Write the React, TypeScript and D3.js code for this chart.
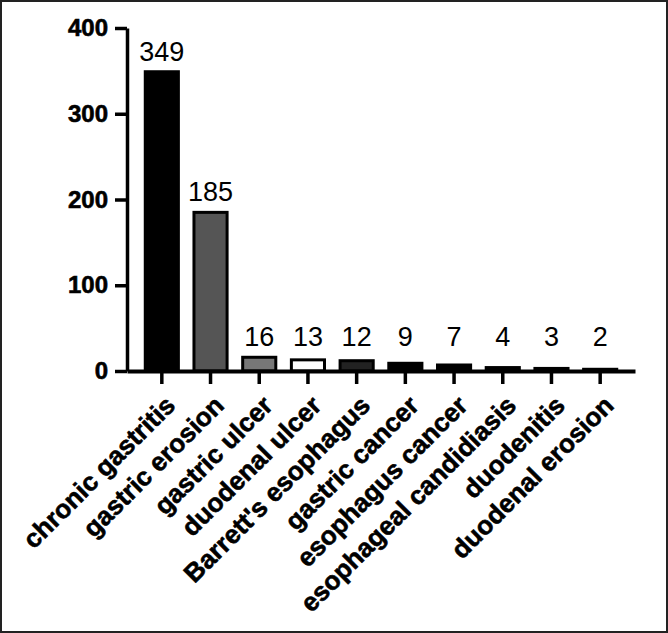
import { useEffect, useRef } from "react";
import * as d3 from "d3";

const WIDTH = 668;
const HEIGHT = 633;
const MARGIN = { top: 28, right: 33, bottom: 262, left: 127 };

const categories = [
  "chronic gastritis",
  "gastric erosion",
  "gastric ulcer",
  "duodenal ulcer",
  "Barrett's esophagus",
  "gastric cancer",
  "esophagus cancer",
  "esophageal candidiasis",
  "duodenitis",
  "duodenal erosion",
];
const counts = [349, 185, 16, 13, 12, 9, 7, 4, 3, 2];
const barFills = ["#000", "#555", "#777", "#fff", "#222", "#000", "#000", "#000", "#000", "#000"];
const yTicks = [0, 100, 200, 300, 400];

const FONT = "'Liberation Sans', Arial, sans-serif";

export default function App() {
  const axesRef = useRef<SVGGElement>(null);
  const boundsWidth = WIDTH - MARGIN.left - MARGIN.right;
  const boundsHeight = HEIGHT - MARGIN.top - MARGIN.bottom;

  const yScale = d3.scaleLinear().domain([0, 400]).range([boundsHeight, 0]);
  const xScale = d3
    .scaleBand()
    .domain(categories)
    .range([0, boundsWidth])
    .paddingInner(0.32)
    .paddingOuter(0.375);

  useEffect(() => {
    const g = d3.select(axesRef.current);
    g.selectAll("*").remove();

    // y axis
    const yAxis = g
      .append("g")
      .call(d3.axisLeft(yScale).tickValues(yTicks).tickSize(12).tickPadding(7).tickSizeOuter(0));
    yAxis.select(".domain").attr("stroke-width", 3.5).attr("stroke", "#000");
    yAxis.selectAll(".tick line").attr("stroke-width", 3.5).attr("stroke", "#000");
    yAxis
      .selectAll(".tick text")
      .attr("font-family", FONT)
      .attr("font-size", 24)
      .attr("font-weight", "bold")
      .attr("fill", "#000")
      .attr("stroke", "#000")
      .attr("stroke-width", 0.6);

    // x axis, no tick text (labels drawn rotated below)
    const xAxis = g
      .append("g")
      .attr("transform", `translate(0,${boundsHeight})`)
      .call(d3.axisBottom(xScale).tickSize(13).tickSizeOuter(0).tickFormat(() => ""));
    xAxis.select(".domain").attr("stroke-width", 4).attr("stroke", "#000");
    xAxis.selectAll(".tick line").attr("stroke-width", 3.5).attr("stroke", "#000");

    g.append("g")
      .selectAll("text")
      .data(categories)
      .join("text")
      .attr(
        "transform",
        (d) => `translate(${(xScale(d) ?? 0) + xScale.bandwidth() / 2 + 15},${boundsHeight + 36}) rotate(-45)`
      )
      .attr("text-anchor", "end")
      .attr("font-family", FONT)
      .attr("font-size", 26)
      .attr("font-weight", "bold")
      .attr("fill", "#000")
      .attr("stroke", "#000")
      .attr("stroke-width", 0.6)
      .text((d) => d);
  }, []);

  // small values all share one label height
  const labelFloor = yScale(16);

  return (
    <div>
      <style>{"body{margin:0}"}</style>
      <svg width={WIDTH} height={HEIGHT} style={{ display: "block", background: "#fff" }}>
        <rect x={1} y={1} width={WIDTH - 2} height={HEIGHT - 2} fill="#fff" stroke="#222" strokeWidth={2} />
        <g transform={`translate(${MARGIN.left},${MARGIN.top})`}>
          {categories.map((c, i) => (
            <rect
              key={c}
              x={xScale(c)}
              y={yScale(counts[i])}
              width={xScale.bandwidth()}
              height={boundsHeight - yScale(counts[i])}
              fill={barFills[i]}
              stroke="#000"
              strokeWidth={3}
            />
          ))}
          {categories.map((c, i) => (
            <text
              key={c}
              x={(xScale(c) ?? 0) + xScale.bandwidth() / 2}
              y={Math.min(yScale(counts[i]), labelFloor) - 11}
              textAnchor="middle"
              fontFamily={FONT}
              fontSize={27}
              fill="#000"
            >
              {counts[i]}
            </text>
          ))}
        </g>
        <g ref={axesRef} transform={`translate(${MARGIN.left},${MARGIN.top})`} />
      </svg>
    </div>
  );
}
